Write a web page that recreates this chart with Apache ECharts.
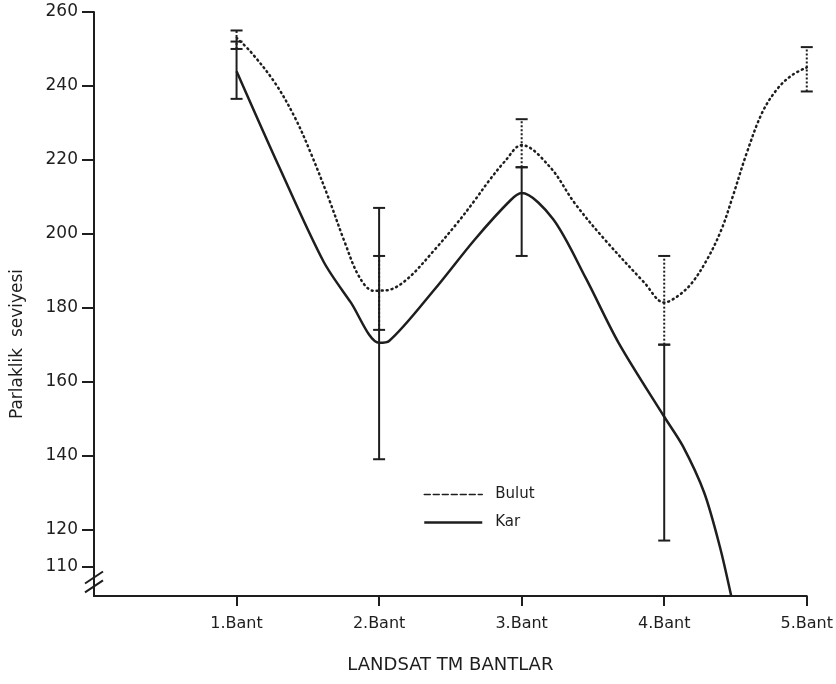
<!DOCTYPE html>
<html>
<head>
    <meta charset="utf-8">
    <title>Parlaklik seviyesi</title>
    <script src="https://cdn.jsdelivr.net/npm/echarts@6/dist/echarts.min.js"></script>
</head>
<body style="margin:0;background:#fff;">
<div id="chart" style="width:836px;height:684px;"></div>
<script type="text/javascript">
    // bant etiketleri ve eksen degerleri
    var xLabels = ['1.Bant', '2.Bant', '3.Bant', '4.Bant', '5.Bant'];
    var xTicks = [1, 2, 3, 4, 5];
    var yTicks = [110, 120, 140, 160, 180, 200, 220, 240, 260];

    // egriler (resimden okunan noktalar)
    var bulutLine = [[1, 253], [1.1, 249.2], [1.27, 240.8], [1.41, 231.4], [1.52, 221.9], [1.65, 209.2],
        [1.76, 197.6], [1.86, 188.4], [1.96, 184.6], [2.05, 184.7], [2.19, 187.5], [2.39, 195.7],
        [2.55, 203], [2.67, 209], [2.77, 214.3], [2.88, 219.5], [3, 224], [3.2, 218],
        [3.37, 208.4], [3.57, 199], [3.86, 186.8], [4, 181.4], [4.09, 183],
        [4.19, 186.5], [4.3, 193], [4.4, 201], [4.48, 210], [4.58, 222], [4.69, 233], [4.8, 239.5],
        [4.9, 243], [5, 245]];
    var karLine = [[1, 244], [1.3, 218], [1.61, 192.5], [1.8, 181.5], [2, 170.5], [2.07, 171], [2.39, 185],
        [2.67, 198.4], [2.92, 209], [3, 211], [3.22, 204], [3.45, 188], [3.68, 170.5], [4, 150.5],
        [4.13, 142.6], [4.28, 130], [4.39, 115.4], [4.47, 102]];

    // hata cubuklari: [bant, alt, ust]
    var bulutErr = [[1, 250, 255], [2, 174, 194], [3, 218, 231], [4, 170, 194], [5, 238.5, 250.5]];
    var karErr = [[1, 236.5, 252], [2, 139, 207], [3, 194, 218], [4, 117, 170]];

    var ink = '#1e1e1e';
    var font = 'DejaVu Sans';

    function errRender(dashed) {
        return function (params, api) {
            var x = api.value(0);
            var pLo = api.coord([x, api.value(1)]);
            var pHi = api.coord([x, api.value(2)]);
            var w = 6;
            var st = {stroke: ink, lineWidth: 2, lineDash: dashed ? [2, 2] : null};
            var cap = {stroke: ink, lineWidth: 2};
            return {
                type: 'group',
                children: [
                    {type: 'line', shape: {x1: pLo[0], y1: pLo[1], x2: pHi[0], y2: pHi[1]}, style: st},
                    {type: 'line', shape: {x1: pLo[0] - w, y1: pLo[1], x2: pLo[0] + w, y2: pLo[1]}, style: cap},
                    {type: 'line', shape: {x1: pHi[0] - w, y1: pHi[1], x2: pHi[0] + w, y2: pHi[1]}, style: cap}
                ]
            };
        };
    }

    var myChart = echarts.init(document.getElementById('chart'));
    myChart.setOption({
        animation: false,
        backgroundColor: '#fff',
        grid: {left: 94, right: 18, top: 12, bottom: 88},
        legend: {
            orient: 'vertical',
            left: 418,
            top: 482,
            itemWidth: 58,
            itemHeight: 14,
            itemGap: 13,
            itemStyle: {opacity: 0},
            textStyle: {fontSize: 15, color: ink, fontFamily: font, padding: [0, 0, 0, 8]},
            data: [
                {name: 'Bulut', lineStyle: {type: 'dashed', width: 1.5, color: ink}},
                {name: 'Kar', lineStyle: {type: 'solid', width: 2.5, color: ink}}
            ]
        },
        xAxis: {
            type: 'value',
            min: 0,
            max: 5,
            interval: 1,
            name: 'LANDSAT TM BANTLAR',
            nameLocation: 'middle',
            nameGap: 60,
            nameTextStyle: {fontSize: 18, color: ink, fontFamily: font},
            axisLine: {lineStyle: {color: ink, width: 2}},
            axisTick: {customValues: xTicks, length: 10, lineStyle: {color: ink, width: 2}},
            axisLabel: {
                customValues: xTicks,
                margin: 20,
                fontSize: 16,
                color: ink,
                fontFamily: font,
                formatter: function (v) { return xLabels[v - 1]; }
            },
            splitLine: {show: false}
        },
        yAxis: {
            type: 'value',
            min: 102,
            max: 260,
            axisLine: {show: true, lineStyle: {color: ink, width: 2}},
            axisTick: {show: true, customValues: yTicks, length: 12, lineStyle: {color: ink, width: 2}},
            axisLabel: {customValues: yTicks, margin: 16, fontSize: 17, color: ink, fontFamily: font},
            splitLine: {show: false}
        },
        series: [
            {
                name: 'Bulut',
                type: 'line',
                data: bulutLine,
                smooth: 0.35,
                symbol: 'none',
                lineStyle: {color: ink, width: 2.5, type: [1, 4], cap: 'round'},
                z: 3
            },
            {
                name: 'Kar',
                type: 'line',
                data: karLine,
                smooth: 0.3,
                symbol: 'none',
                lineStyle: {color: ink, width: 2.5},
                z: 3
            },
            {
                name: 'Bulut hata',
                type: 'custom',
                data: bulutErr,
                encode: {x: 0, y: [1, 2]},
                renderItem: errRender(true),
                z: 4
            },
            {
                name: 'Kar hata',
                type: 'custom',
                data: karErr,
                encode: {x: 0, y: [1, 2]},
                renderItem: errRender(false),
                z: 4
            }
        ]
    });

    // eksen kirilma isareti ve y ekseni basligi
    var b1 = myChart.convertToPixel({gridIndex: 0}, [0, 107]);
    var b2 = myChart.convertToPixel({gridIndex: 0}, [0, 104.6]);
    myChart.setOption({
        graphic: [
            {type: 'line', shape: {x1: b1[0] - 9, y1: b1[1] + 6, x2: b1[0] + 9, y2: b1[1] - 6},
                style: {stroke: ink, lineWidth: 2}},
            {type: 'line', shape: {x1: b2[0] - 9, y1: b2[1] + 6, x2: b2[0] + 9, y2: b2[1] - 6},
                style: {stroke: ink, lineWidth: 2}},
            {type: 'text', x: 18, y: 344, rotation: Math.PI / 2,
                style: {text: 'Parlaklik  seviyesi', fontSize: 17, fill: ink, fontFamily: font,
                    align: 'center', verticalAlign: 'middle'}}
        ]
    });
</script>
</body>
</html>
